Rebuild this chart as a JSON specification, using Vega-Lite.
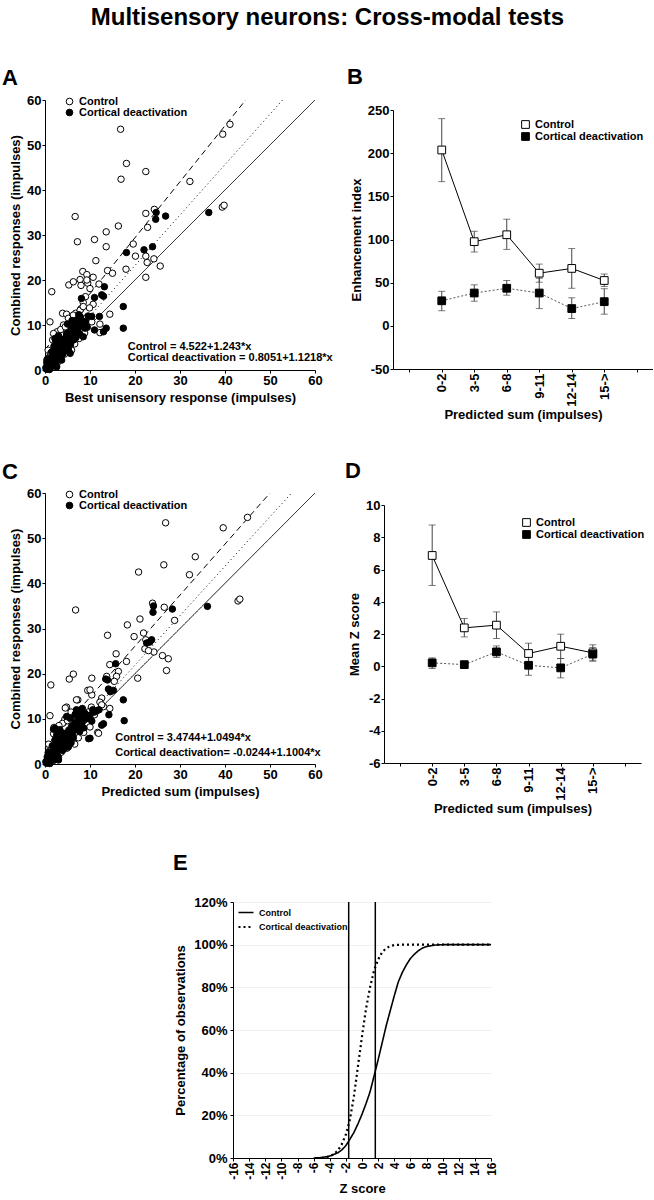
{
"$schema": "https://vega.github.io/schema/vega-lite/v6.json",
"background": "white",
"padding": {"left": 2, "top": 6, "right": 0, "bottom": 0},
"title": {"text": "Multisensory neurons: Cross-modal tests", "fontSize": 24, "anchor": "middle", "offset": 36},
"spacing": 36,
"resolve": {"scale": {"fill": "independent", "strokeDash": "independent", "color": "independent", "strokeWidth": "independent"}, "legend": {"fill": "independent", "strokeDash": "independent", "color": "independent"}},
"vconcat": [
{"spacing": 38,
 "resolve": {"scale": {"fill": "independent", "strokeDash": "independent", "color": "independent", "strokeWidth": "independent"}, "legend": {"fill": "independent", "strokeDash": "independent", "color": "independent"}},
 "vconcat": [
{"spacing": 14, "align": "none",
 "resolve": {"scale": {"fill": "independent", "strokeDash": "independent", "color": "independent", "strokeWidth": "independent"}, "legend": {"fill": "independent", "strokeDash": "independent", "color": "independent"}},
 "hconcat": [
{"width": 270, "height": 270,
 "title": {"text": "A", "anchor": "start", "frame": "group", "dx": -43, "offset": 4, "fontSize": 22},
 "layer": [
  {"data": {"values": [
    {"fit": "Control fit", "x": 0, "y": 4.522}, {"fit": "Control fit", "x": 44.6, "y": 60},
    {"fit": "Cortical fit", "x": 0, "y": 0.805}, {"fit": "Cortical fit", "x": 52.8, "y": 60},
    {"fit": "Unity", "x": 0, "y": 0}, {"fit": "Unity", "x": 60, "y": 60}]},
   "mark": {"type": "line", "color": "black", "strokeWidth": 1},
   "encoding": {
    "x": {"field": "x", "type": "quantitative", "scale": {"domain": [0, 60], "nice": false}, "axis": {"title": "Best unisensory response (impulses)", "values": [0, 10, 20, 30, 40, 50, 60], "tickCount": 20, "format": "d"}},
    "y": {"field": "y", "type": "quantitative", "scale": {"domain": [0, 60], "nice": false}, "axis": {"title": "Combined responses (impulses)", "values": [0, 10, 20, 30, 40, 50, 60], "tickCount": 20, "format": "d"}},
    "detail": {"field": "fit"},
    "strokeDash": {"field": "fit", "type": "nominal", "scale": {"domain": ["Control fit", "Cortical fit", "Unity"], "range": [[6, 4], [1, 3], [1, 0]]}, "legend": null}}},
  {"data": {"values": [
{"group":"Control","x":41.1,"y":54.6},{"group":"Control","x":39.5,"y":52.4},{"group":"Control","x":16.8,"y":53.5},{"group":"Control","x":18.1,"y":45.9},{"group":"Control","x":22.4,"y":44.1},{"group":"Control","x":16.9,"y":42.4},{"group":"Control","x":32.2,"y":41.9},{"group":"Control","x":39.4,"y":36.2},{"group":"Control","x":39.8,"y":36.6},{"group":"Control","x":6.7,"y":34.1},{"group":"Control","x":24.3,"y":35.7},{"group":"Control","x":22.4,"y":34.8},{"group":"Control","x":16.3,"y":32.0},{"group":"Control","x":13.6,"y":30.7},{"group":"Control","x":22.8,"y":31.7},{"group":"Control","x":7.2,"y":28.5},{"group":"Control","x":11.0,"y":29.0},{"group":"Control","x":13.6,"y":27.4},{"group":"Control","x":19.6,"y":28.0},{"group":"Control","x":20.1,"y":25.3},{"group":"Control","x":22.4,"y":25.3},{"group":"Control","x":24.2,"y":24.7},{"group":"Control","x":22.7,"y":23.9},{"group":"Control","x":25.6,"y":23.1},{"group":"Control","x":11.3,"y":24.3},{"group":"Control","x":13.9,"y":22.1},{"group":"Control","x":15.0,"y":21.5},{"group":"Control","x":8.4,"y":21.9},{"group":"Control","x":18.0,"y":22.4},{"group":"Control","x":22.4,"y":20.6},{"group":"Control","x":1.5,"y":17.4},{"group":"Control","x":5.3,"y":18.9},{"group":"Control","x":6.3,"y":19.6},{"group":"Control","x":7.8,"y":20.1},{"group":"Control","x":10.7,"y":20.6},{"group":"Control","x":9.5,"y":19.3},{"group":"Control","x":12.0,"y":19.1},{"group":"Control","x":10.0,"y":18.1},{"group":"Control","x":8.0,"y":18.8},{"group":"Control","x":9.0,"y":16.3},{"group":"Control","x":8.5,"y":15.0},{"group":"Control","x":10.7,"y":14.6},{"group":"Control","x":8.0,"y":13.6},{"group":"Control","x":6.8,"y":12.6},{"group":"Control","x":3.9,"y":12.6},{"group":"Control","x":4.8,"y":12.4},{"group":"Control","x":14.4,"y":12.4},{"group":"Control","x":1.1,"y":10.7},{"group":"Control","x":10.0,"y":10.9},{"group":"Control","x":5.2,"y":11.5},{"group":"Control","x":7.8,"y":10.0},{"group":"Control","x":4.1,"y":10.0},{"group":"Control","x":2.7,"y":8.5},{"group":"Control","x":1.7,"y":6.7},{"group":"Control","x":5.9,"y":8.1},{"group":"Control","x":5.6,"y":6.3},{"group":"Control","x":0.7,"y":4.4},{"group":"Control","x":2.4,"y":5.2},{"group":"Control","x":12.2,"y":10.2},{"group":"Control","x":7.0,"y":9.6},{"group":"Control","x":5.9,"y":4.4},{"group":"Control","x":0.4,"y":2.2},{"group":"Control","x":3.3,"y":6.7},{"group":"Control","x":9.3,"y":21.2},{"group":"Control","x":9.3,"y":20.0},{"group":"Control","x":6.3,"y":12.2},{"group":"Control","x":7.8,"y":13.3},{"group":"Control","x":8.5,"y":14.1},{"group":"Control","x":10.4,"y":10.7},{"group":"Control","x":1.9,"y":8.1},{"group":"Control","x":0.3,"y":0.6},{"group":"Control","x":0.6,"y":1.5},{"group":"Control","x":1.0,"y":2.9},{"group":"Control","x":1.3,"y":3.8},{"group":"Control","x":2.0,"y":4.6},{"group":"Control","x":2.9,"y":7.4},{"group":"Control","x":3.5,"y":9.0},{"group":"Control","x":4.5,"y":9.6},{"group":"Control","x":6.0,"y":10.6},{"group":"Control","x":9.2,"y":11.6},{"group":"Control","x":1.0,"y":0.9},{"group":"Control","x":2.0,"y":1.8},{"group":"Control","x":3.1,"y":2.6},{"group":"Control","x":4.3,"y":3.5},{"group":"Control","x":6.6,"y":5.8},{"group":"Control","x":7.6,"y":7.0},{"group":"Control","x":8.8,"y":8.2},{"group":"Control","x":0.5,"y":0.2},{"group":"Control","x":1.6,"y":0.8},{"group":"Control","x":2.7,"y":1.5},{"group":"Control","x":9.9,"y":13.8},{"group":"Control","x":12.2,"y":8.3},
{"group":"Cortical deactivation","x":36.4,"y":35.0},{"group":"Cortical deactivation","x":26.8,"y":34.2},{"group":"Cortical deactivation","x":24.6,"y":33.5},{"group":"Cortical deactivation","x":24.7,"y":35.0},{"group":"Cortical deactivation","x":23.9,"y":27.4},{"group":"Cortical deactivation","x":22.0,"y":26.7},{"group":"Cortical deactivation","x":18.1,"y":26.1},{"group":"Cortical deactivation","x":13.2,"y":18.5},{"group":"Cortical deactivation","x":13.0,"y":16.4},{"group":"Cortical deactivation","x":11.0,"y":16.1},{"group":"Cortical deactivation","x":8.1,"y":15.9},{"group":"Cortical deactivation","x":17.4,"y":14.1},{"group":"Cortical deactivation","x":12.1,"y":11.9},{"group":"Cortical deactivation","x":7.8,"y":11.9},{"group":"Cortical deactivation","x":7.2,"y":10.7},{"group":"Cortical deactivation","x":11.0,"y":8.9},{"group":"Cortical deactivation","x":13.6,"y":9.3},{"group":"Cortical deactivation","x":13.0,"y":8.5},{"group":"Cortical deactivation","x":17.4,"y":9.3},{"group":"Cortical deactivation","x":6.3,"y":9.3},{"group":"Cortical deactivation","x":4.8,"y":8.1},{"group":"Cortical deactivation","x":5.9,"y":7.0},{"group":"Cortical deactivation","x":8.5,"y":7.4},{"group":"Cortical deactivation","x":4.1,"y":5.9},{"group":"Cortical deactivation","x":3.0,"y":4.4},{"group":"Cortical deactivation","x":5.6,"y":3.7},{"group":"Cortical deactivation","x":1.9,"y":3.0},{"group":"Cortical deactivation","x":1.1,"y":1.5},{"group":"Cortical deactivation","x":3.7,"y":2.2},{"group":"Cortical deactivation","x":2.6,"y":0.7},{"group":"Cortical deactivation","x":4.8,"y":5.2},{"group":"Cortical deactivation","x":7.0,"y":11.1},{"group":"Cortical deactivation","x":6.4,"y":6.7},{"group":"Cortical deactivation","x":8.9,"y":9.3},{"group":"Cortical deactivation","x":0.3,"y":0.2},{"group":"Cortical deactivation","x":0.5,"y":0.8},{"group":"Cortical deactivation","x":0.7,"y":0.4},{"group":"Cortical deactivation","x":0.9,"y":1.2},{"group":"Cortical deactivation","x":1.2,"y":1.8},{"group":"Cortical deactivation","x":1.3,"y":0.9},{"group":"Cortical deactivation","x":1.5,"y":2.5},{"group":"Cortical deactivation","x":1.6,"y":1.4},{"group":"Cortical deactivation","x":1.8,"y":3.2},{"group":"Cortical deactivation","x":1.9,"y":2.1},{"group":"Cortical deactivation","x":2.0,"y":1.0},{"group":"Cortical deactivation","x":2.2,"y":3.8},{"group":"Cortical deactivation","x":2.3,"y":2.7},{"group":"Cortical deactivation","x":2.5,"y":1.8},{"group":"Cortical deactivation","x":2.6,"y":4.5},{"group":"Cortical deactivation","x":2.8,"y":3.3},{"group":"Cortical deactivation","x":3.1,"y":5.2},{"group":"Cortical deactivation","x":3.3,"y":4.0},{"group":"Cortical deactivation","x":3.5,"y":3.0},{"group":"Cortical deactivation","x":3.6,"y":6.0},{"group":"Cortical deactivation","x":3.8,"y":4.8},{"group":"Cortical deactivation","x":4.0,"y":3.6},{"group":"Cortical deactivation","x":4.1,"y":6.8},{"group":"Cortical deactivation","x":4.3,"y":5.5},{"group":"Cortical deactivation","x":4.5,"y":4.3},{"group":"Cortical deactivation","x":4.7,"y":7.5},{"group":"Cortical deactivation","x":4.9,"y":6.2},{"group":"Cortical deactivation","x":5.3,"y":8.3},{"group":"Cortical deactivation","x":5.5,"y":7.0},{"group":"Cortical deactivation","x":5.7,"y":5.8},{"group":"Cortical deactivation","x":5.9,"y":9.0},{"group":"Cortical deactivation","x":6.1,"y":7.7},{"group":"Cortical deactivation","x":6.5,"y":9.8},{"group":"Cortical deactivation","x":6.7,"y":8.5},{"group":"Cortical deactivation","x":7.1,"y":10.5},{"group":"Cortical deactivation","x":7.4,"y":9.2},{"group":"Cortical deactivation","x":8.0,"y":11.2},{"group":"Cortical deactivation","x":8.3,"y":10.0},{"group":"Cortical deactivation","x":9.0,"y":10.8},{"group":"Cortical deactivation","x":9.4,"y":9.5},{"group":"Cortical deactivation","x":3.0,"y":7.6},{"group":"Cortical deactivation","x":2.4,"y":6.4},{"group":"Cortical deactivation","x":1.5,"y":4.0},{"group":"Cortical deactivation","x":0.6,"y":2.5},{"group":"Cortical deactivation","x":2.0,"y":5.3},{"group":"Cortical deactivation","x":5.0,"y":10.2},{"group":"Cortical deactivation","x":6.0,"y":11.0},{"group":"Cortical deactivation","x":7.5,"y":12.3},{"group":"Cortical deactivation","x":2.2,"y":7.0},{"group":"Cortical deactivation","x":0.2,"y":0.5},{"group":"Cortical deactivation","x":1.0,"y":0.1},{"group":"Cortical deactivation","x":0.4,"y":1.6},{"group":"Cortical deactivation","x":5.2,"y":4.7},{"group":"Cortical deactivation","x":7.7,"y":8.0},{"group":"Cortical deactivation","x":6.9,"y":7.2},{"group":"Cortical deactivation","x":9.6,"y":12.0},{"group":"Cortical deactivation","x":10.4,"y":11.9},{"group":"Cortical deactivation","x":12.6,"y":16.7}
   ]},
   "mark": {"type": "circle", "size": 42, "stroke": "black", "strokeWidth": 1, "opacity": 1},
   "encoding": {
    "x": {"field": "x", "type": "quantitative"},
    "y": {"field": "y", "type": "quantitative"},
    "fill": {"field": "group", "type": "nominal", "scale": {"domain": ["Control", "Cortical deactivation"], "range": ["white", "black"]},
     "legend": {"title": null, "orient": "none", "legendX": 19, "legendY": -4, "symbolType": "circle", "symbolSize": 45, "symbolStrokeColor": "black", "symbolStrokeWidth": 1, "rowPadding": -3}}}},
  {"data": {"values": [{"label": "Control = 4.522+1.243*x", "x": 18.4, "y": 5.1}, {"label": "Cortical deactivation = 0.8051+1.1218*x", "x": 18.4, "y": 2.6}]},
   "mark": {"type": "text", "align": "left", "baseline": "middle", "fontSize": 11, "fontWeight": "bold", "color": "black"},
   "encoding": {"x": {"field": "x", "type": "quantitative"}, "y": {"field": "y", "type": "quantitative"}, "text": {"field": "label"}}}
 ]},
{"width": 260, "height": 269,
 "title": {"text": "B", "anchor": "start", "frame": "group", "dx": -46, "offset": 11, "fontSize": 22},
 "data": {"values": [
{"series":"Control","sum":"0-2","mean":203.7,"lo":167,"hi":240},
{"series":"Control","sum":"3-5","mean":97.5,"lo":85.5,"hi":109.5},
{"series":"Control","sum":"6-8","mean":105.5,"lo":88.5,"hi":123.5},
{"series":"Control","sum":"9-11","mean":61,"lo":50.5,"hi":71.5},
{"series":"Control","sum":"12-14","mean":66.5,"lo":43.5,"hi":89.5},
{"series":"Control","sum":"15->","mean":52.5,"lo":45.5,"hi":60},
{"series":"Cortical deactivation","sum":"0-2","mean":29,"lo":17.5,"hi":40},
{"series":"Cortical deactivation","sum":"3-5","mean":38,"lo":28.5,"hi":47.5},
{"series":"Cortical deactivation","sum":"6-8","mean":43.5,"lo":35.5,"hi":52.5},
{"series":"Cortical deactivation","sum":"9-11","mean":38,"lo":20,"hi":55},
{"series":"Cortical deactivation","sum":"12-14","mean":20,"lo":8.5,"hi":32.5},
{"series":"Cortical deactivation","sum":"15->","mean":28,"lo":13.5,"hi":43}]},
 "encoding": {"x": {"field": "sum", "type": "ordinal", "scale": {"type": "point", "domain": [" ", "0-2", "3-5", "6-8", "9-11", "12-14", "15->", "  "], "padding": 0.5}, "axis": {"title": "Predicted sum (impulses)", "labelAngle": -90, "titlePadding": 2}}},
 "layer": [
  {"transform": [{"filter": "datum.series === 'Control'"}],
   "mark": {"type": "line", "strokeWidth": 1, "color": "black"},
   "encoding": {
    "y": {"field": "mean", "type": "quantitative", "scale": {"domain": [-50, 250], "nice": false, "zero": false, "range": [269, 10]}, "axis": {"title": "Enhancement index", "values": [-50, 0, 50, 100, 150, 200, 250], "tickCount": 20, "labelExpr": "datum.value < 0 ? '-' + (-datum.value) : '' + datum.value"}},
    "order": {"value": null}}},
  {"transform": [{"filter": "datum.series === 'Cortical deactivation'"}],
   "mark": {"type": "line", "strokeWidth": 1, "color": "#555555", "strokeDash": [2, 2]},
   "encoding": {"y": {"field": "mean", "type": "quantitative"}, "order": {"value": null}}},
  {"mark": {"type": "rule", "color": "#444444"}, "encoding": {"y": {"field": "lo", "type": "quantitative"}, "y2": {"field": "hi"}}},
  {"mark": {"type": "tick", "color": "#444444", "size": 7, "thickness": 1}, "encoding": {"y": {"field": "lo", "type": "quantitative"}}},
  {"mark": {"type": "tick", "color": "#444444", "size": 7, "thickness": 1}, "encoding": {"y": {"field": "hi", "type": "quantitative"}}},
  {"mark": {"type": "square", "size": 60, "stroke": "black", "strokeWidth": 1, "opacity": 1},
   "encoding": {"y": {"field": "mean", "type": "quantitative"},
    "fill": {"field": "series", "type": "nominal", "scale": {"domain": ["Control", "Cortical deactivation"], "range": ["white", "black"]},
     "legend": {"title": null, "orient": "none", "legendX": 127, "legendY": 19, "symbolType": "square", "symbolSize": 60, "symbolStrokeColor": "black", "symbolStrokeWidth": 1, "rowPadding": -2}}}}
 ]}
]},
{"spacing": 22, "align": "none",
 "resolve": {"scale": {"fill": "independent", "strokeDash": "independent", "color": "independent", "strokeWidth": "independent"}, "legend": {"fill": "independent", "strokeDash": "independent", "color": "independent"}},
 "hconcat": [
{"width": 270, "height": 271,
 "title": {"text": "C", "anchor": "start", "frame": "group", "dx": -43, "offset": 3, "fontSize": 22},
 "layer": [
  {"data": {"values": [
    {"fit": "Control fit", "x": 0, "y": 3.47}, {"fit": "Control fit", "x": 50, "y": 60},
    {"fit": "Cortical fit", "x": 0, "y": 0}, {"fit": "Cortical fit", "x": 54.8, "y": 60},
    {"fit": "Unity", "x": 0, "y": 0}, {"fit": "Unity", "x": 60, "y": 60}]},
   "mark": {"type": "line", "color": "black", "strokeWidth": 1},
   "encoding": {
    "x": {"field": "x", "type": "quantitative", "scale": {"domain": [0, 60], "nice": false}, "axis": {"title": "Predicted sum (impulses)", "values": [0, 10, 20, 30, 40, 50, 60], "tickCount": 20, "format": "d"}},
    "y": {"field": "y", "type": "quantitative", "scale": {"domain": [0, 60], "nice": false}, "axis": {"title": "Combined responses (impulses)", "values": [0, 10, 20, 30, 40, 50, 60], "tickCount": 20, "format": "d"}},
    "detail": {"field": "fit"},
    "strokeDash": {"field": "fit", "type": "nominal", "scale": {"domain": ["Control fit", "Cortical fit", "Unity"], "range": [[6, 4], [1, 3], [1, 0]]}, "legend": null}}},
  {"data": {"values": [
{"group":"Control","x":45.0,"y":54.6},{"group":"Control","x":39.6,"y":52.3},{"group":"Control","x":26.8,"y":53.4},{"group":"Control","x":33.4,"y":45.9},{"group":"Control","x":26.4,"y":44.1},{"group":"Control","x":20.8,"y":42.5},{"group":"Control","x":32.1,"y":41.9},{"group":"Control","x":42.9,"y":36.1},{"group":"Control","x":43.3,"y":36.5},{"group":"Control","x":6.8,"y":34.1},{"group":"Control","x":23.9,"y":35.6},{"group":"Control","x":26.5,"y":34.7},{"group":"Control","x":21.1,"y":32.1},{"group":"Control","x":28.8,"y":31.8},{"group":"Control","x":18.3,"y":30.8},{"group":"Control","x":13.9,"y":28.5},{"group":"Control","x":19.8,"y":28.2},{"group":"Control","x":21.9,"y":29.0},{"group":"Control","x":22.4,"y":27.5},{"group":"Control","x":24.2,"y":24.8},{"group":"Control","x":26.1,"y":24.0},{"group":"Control","x":27.4,"y":23.3},{"group":"Control","x":27.0,"y":20.7},{"group":"Control","x":20.6,"y":19.0},{"group":"Control","x":22.2,"y":25.5},{"group":"Control","x":23.0,"y":25.1},{"group":"Control","x":15.8,"y":24.4},{"group":"Control","x":14.4,"y":22.0},{"group":"Control","x":18.1,"y":22.7},{"group":"Control","x":16.3,"y":20.5},{"group":"Control","x":15.9,"y":19.4},{"group":"Control","x":15.4,"y":18.3},{"group":"Control","x":1.3,"y":17.5},{"group":"Control","x":5.4,"y":18.8},{"group":"Control","x":6.3,"y":19.9},{"group":"Control","x":10.4,"y":19.0},{"group":"Control","x":13.7,"y":19.4},{"group":"Control","x":9.5,"y":16.3},{"group":"Control","x":10.4,"y":15.3},{"group":"Control","x":12.6,"y":14.6},{"group":"Control","x":7.3,"y":14.2},{"group":"Control","x":12.2,"y":13.7},{"group":"Control","x":4.8,"y":12.6},{"group":"Control","x":14.4,"y":12.3},{"group":"Control","x":1.1,"y":10.7},{"group":"Control","x":11.7,"y":7.0},{"group":"Control","x":13.0,"y":12.7},{"group":"Control","x":8.1,"y":11.8},{"group":"Control","x":10.0,"y":16.4},{"group":"Control","x":12.6,"y":13.1},{"group":"Control","x":4.4,"y":9.9},{"group":"Control","x":7.0,"y":14.2},{"group":"Control","x":11.9,"y":6.8},{"group":"Control","x":0.3,"y":0.6},{"group":"Control","x":0.6,"y":1.5},{"group":"Control","x":1.0,"y":2.9},{"group":"Control","x":1.4,"y":3.8},{"group":"Control","x":2.2,"y":4.6},{"group":"Control","x":3.2,"y":7.4},{"group":"Control","x":3.9,"y":9.0},{"group":"Control","x":5.0,"y":9.6},{"group":"Control","x":6.5,"y":10.6},{"group":"Control","x":9.8,"y":11.6},{"group":"Control","x":1.2,"y":0.9},{"group":"Control","x":2.4,"y":1.8},{"group":"Control","x":3.6,"y":2.6},{"group":"Control","x":4.9,"y":3.5},{"group":"Control","x":7.4,"y":5.8},{"group":"Control","x":8.6,"y":7.0},{"group":"Control","x":10.0,"y":8.2},{"group":"Control","x":0.6,"y":0.2},{"group":"Control","x":1.9,"y":0.8},{"group":"Control","x":3.0,"y":1.5},{"group":"Control","x":2.0,"y":8.1},{"group":"Control","x":3.6,"y":6.7},{"group":"Control","x":0.8,"y":4.4},{"group":"Control","x":2.7,"y":5.2},{"group":"Control","x":6.4,"y":8.1},{"group":"Control","x":6.2,"y":6.3},{"group":"Control","x":6.6,"y":4.4},{"group":"Control","x":4.5,"y":12.4},{"group":"Control","x":5.8,"y":11.5},{"group":"Control","x":8.8,"y":10.0},{"group":"Control","x":3.1,"y":8.5},{"group":"Control","x":1.9,"y":6.7},{"group":"Control","x":7.8,"y":9.6},{"group":"Control","x":11.0,"y":10.9},{"group":"Control","x":9.2,"y":10.6},{"group":"Control","x":5.7,"y":10.0},{"group":"Control","x":10.3,"y":12.6},
{"group":"Cortical deactivation","x":36.1,"y":34.9},{"group":"Cortical deactivation","x":28.3,"y":34.3},{"group":"Cortical deactivation","x":24.1,"y":35.0},{"group":"Cortical deactivation","x":24.0,"y":33.6},{"group":"Cortical deactivation","x":23.7,"y":27.5},{"group":"Cortical deactivation","x":23.3,"y":27.0},{"group":"Cortical deactivation","x":22.6,"y":26.8},{"group":"Cortical deactivation","x":15.7,"y":22.2},{"group":"Cortical deactivation","x":13.9,"y":18.6},{"group":"Cortical deactivation","x":14.1,"y":16.6},{"group":"Cortical deactivation","x":15.2,"y":16.3},{"group":"Cortical deactivation","x":17.4,"y":14.2},{"group":"Cortical deactivation","x":17.6,"y":9.6},{"group":"Cortical deactivation","x":14.2,"y":10.9},{"group":"Cortical deactivation","x":13.0,"y":8.9},{"group":"Cortical deactivation","x":11.5,"y":11.8},{"group":"Cortical deactivation","x":9.7,"y":5.6},{"group":"Cortical deactivation","x":1.9,"y":7.7},{"group":"Cortical deactivation","x":7.0,"y":12.0},{"group":"Cortical deactivation","x":7.8,"y":11.2},{"group":"Cortical deactivation","x":4.8,"y":10.5},{"group":"Cortical deactivation","x":8.5,"y":9.8},{"group":"Cortical deactivation","x":6.3,"y":8.3},{"group":"Cortical deactivation","x":4.1,"y":6.8},{"group":"Cortical deactivation","x":3.3,"y":4.6},{"group":"Cortical deactivation","x":2.2,"y":3.1},{"group":"Cortical deactivation","x":1.1,"y":1.6},{"group":"Cortical deactivation","x":5.2,"y":3.8},{"group":"Cortical deactivation","x":3.0,"y":0.9},{"group":"Cortical deactivation","x":12.6,"y":8.6},{"group":"Cortical deactivation","x":2.2,"y":7.9},{"group":"Cortical deactivation","x":10.0,"y":5.7},{"group":"Cortical deactivation","x":0.3,"y":0.2},{"group":"Cortical deactivation","x":0.6,"y":0.8},{"group":"Cortical deactivation","x":0.8,"y":0.4},{"group":"Cortical deactivation","x":1.0,"y":1.2},{"group":"Cortical deactivation","x":1.4,"y":1.8},{"group":"Cortical deactivation","x":1.5,"y":0.9},{"group":"Cortical deactivation","x":1.7,"y":2.5},{"group":"Cortical deactivation","x":1.8,"y":1.4},{"group":"Cortical deactivation","x":2.0,"y":3.2},{"group":"Cortical deactivation","x":2.1,"y":2.1},{"group":"Cortical deactivation","x":2.3,"y":1.0},{"group":"Cortical deactivation","x":2.5,"y":3.8},{"group":"Cortical deactivation","x":2.6,"y":2.7},{"group":"Cortical deactivation","x":2.8,"y":1.8},{"group":"Cortical deactivation","x":2.9,"y":4.5},{"group":"Cortical deactivation","x":3.1,"y":3.3},{"group":"Cortical deactivation","x":3.5,"y":5.2},{"group":"Cortical deactivation","x":3.7,"y":4.0},{"group":"Cortical deactivation","x":3.9,"y":3.0},{"group":"Cortical deactivation","x":4.0,"y":6.0},{"group":"Cortical deactivation","x":4.2,"y":4.8},{"group":"Cortical deactivation","x":4.5,"y":3.6},{"group":"Cortical deactivation","x":4.6,"y":6.8},{"group":"Cortical deactivation","x":4.8,"y":5.5},{"group":"Cortical deactivation","x":5.0,"y":4.3},{"group":"Cortical deactivation","x":5.3,"y":7.5},{"group":"Cortical deactivation","x":5.5,"y":6.2},{"group":"Cortical deactivation","x":5.9,"y":8.3},{"group":"Cortical deactivation","x":6.1,"y":7.0},{"group":"Cortical deactivation","x":6.3,"y":5.8},{"group":"Cortical deactivation","x":6.6,"y":9.0},{"group":"Cortical deactivation","x":6.8,"y":7.7},{"group":"Cortical deactivation","x":7.3,"y":9.8},{"group":"Cortical deactivation","x":7.5,"y":8.5},{"group":"Cortical deactivation","x":7.9,"y":10.5},{"group":"Cortical deactivation","x":8.2,"y":9.2},{"group":"Cortical deactivation","x":8.9,"y":11.2},{"group":"Cortical deactivation","x":9.2,"y":10.0},{"group":"Cortical deactivation","x":10.0,"y":10.8},{"group":"Cortical deactivation","x":10.4,"y":9.5},{"group":"Cortical deactivation","x":3.3,"y":7.6},{"group":"Cortical deactivation","x":2.6,"y":6.4},{"group":"Cortical deactivation","x":1.6,"y":4.0},{"group":"Cortical deactivation","x":0.7,"y":2.5},{"group":"Cortical deactivation","x":2.2,"y":5.3},{"group":"Cortical deactivation","x":5.6,"y":10.2},{"group":"Cortical deactivation","x":6.7,"y":11.0},{"group":"Cortical deactivation","x":8.3,"y":12.3},{"group":"Cortical deactivation","x":11.0,"y":11.5},{"group":"Cortical deactivation","x":12.0,"y":12.0},{"group":"Cortical deactivation","x":0.2,"y":0.5},{"group":"Cortical deactivation","x":1.1,"y":0.1},{"group":"Cortical deactivation","x":0.5,"y":1.6},{"group":"Cortical deactivation","x":5.8,"y":4.7},{"group":"Cortical deactivation","x":8.6,"y":8.0},{"group":"Cortical deactivation","x":7.7,"y":7.2},{"group":"Cortical deactivation","x":10.6,"y":12.0},{"group":"Cortical deactivation","x":13.5,"y":18.8},{"group":"Cortical deactivation","x":14.5,"y":16.0}
   ]},
   "mark": {"type": "circle", "size": 42, "stroke": "black", "strokeWidth": 1, "opacity": 1},
   "encoding": {
    "x": {"field": "x", "type": "quantitative"},
    "y": {"field": "y", "type": "quantitative"},
    "fill": {"field": "group", "type": "nominal", "scale": {"domain": ["Control", "Cortical deactivation"], "range": ["white", "black"]},
     "legend": {"title": null, "orient": "none", "legendX": 19, "legendY": -4, "symbolType": "circle", "symbolSize": 45, "symbolStrokeColor": "black", "symbolStrokeWidth": 1, "rowPadding": -3}}}},
  {"data": {"values": [{"label": "Control  = 3.4744+1.0494*x", "x": 15.6, "y": 5.8}, {"label": "Cortical deactivation= -0.0244+1.1004*x", "x": 15.6, "y": 2.4}]},
   "mark": {"type": "text", "align": "left", "baseline": "middle", "fontSize": 11, "fontWeight": "bold", "color": "black"},
   "encoding": {"x": {"field": "x", "type": "quantitative"}, "y": {"field": "y", "type": "quantitative"}, "text": {"field": "label"}}}
 ]},
{"width": 257, "height": 270,
 "title": {"text": "D", "anchor": "start", "frame": "group", "dx": -39, "offset": 10, "fontSize": 22},
 "data": {"values": [
{"series":"Control","sum":"0-2","mean":6.87,"lo":5.01,"hi":8.76},
{"series":"Control","sum":"3-5","mean":2.38,"lo":1.82,"hi":2.96},
{"series":"Control","sum":"6-8","mean":2.55,"lo":1.72,"hi":3.37},
{"series":"Control","sum":"9-11","mean":0.79,"lo":0.17,"hi":1.43},
{"series":"Control","sum":"12-14","mean":1.24,"lo":0.48,"hi":1.99},
{"series":"Control","sum":"15->","mean":0.83,"lo":0.37,"hi":1.33},
{"series":"Cortical deactivation","sum":"0-2","mean":0.21,"lo":-0.14,"hi":0.52},
{"series":"Cortical deactivation","sum":"3-5","mean":0.1,"lo":-0.1,"hi":0.27},
{"series":"Cortical deactivation","sum":"6-8","mean":0.89,"lo":0.54,"hi":1.26},
{"series":"Cortical deactivation","sum":"9-11","mean":0.06,"lo":-0.56,"hi":0.68},
{"series":"Cortical deactivation","sum":"12-14","mean":-0.1,"lo":-0.72,"hi":0.48},
{"series":"Cortical deactivation","sum":"15->","mean":0.75,"lo":0.31,"hi":1.16}]},
 "encoding": {"x": {"field": "sum", "type": "ordinal", "scale": {"type": "point", "domain": [" ", "0-2", "3-5", "6-8", "9-11", "12-14", "15->", "  "], "padding": 0.5}, "axis": {"title": "Predicted sum (impulses)", "labelAngle": -90, "titlePadding": 2}}},
 "layer": [
  {"transform": [{"filter": "datum.series === 'Control'"}],
   "mark": {"type": "line", "strokeWidth": 1, "color": "black"},
   "encoding": {
    "y": {"field": "mean", "type": "quantitative", "scale": {"domain": [-6, 10], "nice": false, "zero": false, "range": [270, 12]}, "axis": {"title": "Mean Z score", "values": [-6, -4, -2, 0, 2, 4, 6, 8, 10], "tickCount": 30, "labelExpr": "datum.value < 0 ? '-' + (-datum.value) : '' + datum.value"}},
    "order": {"value": null}}},
  {"transform": [{"filter": "datum.series === 'Cortical deactivation'"}],
   "mark": {"type": "line", "strokeWidth": 1, "color": "#555555", "strokeDash": [2, 2]},
   "encoding": {"y": {"field": "mean", "type": "quantitative"}, "order": {"value": null}}},
  {"mark": {"type": "rule", "color": "#444444"}, "encoding": {"y": {"field": "lo", "type": "quantitative"}, "y2": {"field": "hi"}}},
  {"mark": {"type": "tick", "color": "#444444", "size": 7, "thickness": 1}, "encoding": {"y": {"field": "lo", "type": "quantitative"}}},
  {"mark": {"type": "tick", "color": "#444444", "size": 7, "thickness": 1}, "encoding": {"y": {"field": "hi", "type": "quantitative"}}},
  {"mark": {"type": "square", "size": 60, "stroke": "black", "strokeWidth": 1, "opacity": 1},
   "encoding": {"y": {"field": "mean", "type": "quantitative"},
    "fill": {"field": "series", "type": "nominal", "scale": {"domain": ["Control", "Cortical deactivation"], "range": ["white", "black"]},
     "legend": {"title": null, "orient": "none", "legendX": 137, "legendY": 24, "symbolType": "square", "symbolSize": 60, "symbolStrokeColor": "black", "symbolStrokeWidth": 1, "rowPadding": -3}}}}
 ]}
]}
]},
{"spacing": 10, "align": "none",
 "resolve": {"scale": {"fill": "independent", "strokeDash": "independent", "color": "independent", "strokeWidth": "independent"}, "legend": {"fill": "independent", "strokeDash": "independent", "color": "independent"}},
 "hconcat": [
{"width": 118, "height": 10, "data": {"values": []}, "mark": {"type": "point"}, "encoding": {}},
{"width": 258, "height": 256,
 "title": {"text": "E", "anchor": "start", "frame": "group", "dx": -60, "offset": 21, "fontSize": 22},
 "layer": [
  {"data": {"values": [
{"series":"Control","z":-6,"p":0.0},{"series":"Control","z":-5,"p":0.002},{"series":"Control","z":-4,"p":0.009},{"series":"Control","z":-3,"p":0.024},{"series":"Control","z":-2.5,"p":0.038},{"series":"Control","z":-2,"p":0.058},{"series":"Control","z":-1.5,"p":0.088},{"series":"Control","z":-1,"p":0.12},{"series":"Control","z":-0.5,"p":0.16},{"series":"Control","z":0,"p":0.205},{"series":"Control","z":0.5,"p":0.255},{"series":"Control","z":1,"p":0.31},{"series":"Control","z":1.5,"p":0.385},{"series":"Control","z":2,"p":0.46},{"series":"Control","z":2.5,"p":0.54},{"series":"Control","z":3,"p":0.62},{"series":"Control","z":3.5,"p":0.69},{"series":"Control","z":4,"p":0.76},{"series":"Control","z":4.5,"p":0.825},{"series":"Control","z":5,"p":0.87},{"series":"Control","z":5.5,"p":0.905},{"series":"Control","z":6,"p":0.935},{"series":"Control","z":6.5,"p":0.955},{"series":"Control","z":7,"p":0.972},{"series":"Control","z":7.5,"p":0.984},{"series":"Control","z":8,"p":0.991},{"series":"Control","z":9,"p":0.998},{"series":"Control","z":10,"p":1.0},{"series":"Control","z":12,"p":1.0},{"series":"Control","z":16,"p":1.0},
{"series":"Cortical deactivation","z":-5,"p":0.0},{"series":"Cortical deactivation","z":-4.5,"p":0.003},{"series":"Cortical deactivation","z":-4,"p":0.008},{"series":"Cortical deactivation","z":-3.5,"p":0.018},{"series":"Cortical deactivation","z":-3,"p":0.035},{"series":"Cortical deactivation","z":-2.5,"p":0.065},{"series":"Cortical deactivation","z":-2,"p":0.11},{"series":"Cortical deactivation","z":-1.5,"p":0.18},{"series":"Cortical deactivation","z":-1,"p":0.29},{"series":"Cortical deactivation","z":-0.5,"p":0.43},{"series":"Cortical deactivation","z":0,"p":0.57},{"series":"Cortical deactivation","z":0.5,"p":0.70},{"series":"Cortical deactivation","z":1,"p":0.80},{"series":"Cortical deactivation","z":1.5,"p":0.88},{"series":"Cortical deactivation","z":2,"p":0.93},{"series":"Cortical deactivation","z":2.5,"p":0.965},{"series":"Cortical deactivation","z":3,"p":0.983},{"series":"Cortical deactivation","z":3.5,"p":0.993},{"series":"Cortical deactivation","z":4,"p":0.998},{"series":"Cortical deactivation","z":5,"p":1.0},{"series":"Cortical deactivation","z":16,"p":1.0}
   ]},
   "mark": {"type": "line", "color": "black"},
   "encoding": {
    "x": {"field": "z", "type": "quantitative", "scale": {"domain": [-16, 16], "nice": false},
     "axis": {"title": "Z score", "values": [-16, -14, -12, -10, -8, -6, -4, -2, 0, 2, 4, 6, 8, 10, 12, 14, 16], "tickCount": 40, "labelExpr": "datum.value < 0 ? '-' + (-datum.value) : '' + datum.value", "labelAngle": -90, "labelFontSize": 12, "titlePadding": 3}},
    "y": {"field": "p", "type": "quantitative", "scale": {"domain": [0, 1.2], "nice": false},
     "axis": {"title": "Percentage of observations", "values": [0, 0.2, 0.4, 0.6, 0.8, 1.0, 1.2], "tickCount": 20, "format": ".0%", "grid": true, "gridColor": "#f0f0f0", "labelPadding": 3, "titlePadding": 6}},
    "strokeDash": {"field": "series", "type": "nominal", "scale": {"domain": ["Control", "Cortical deactivation"], "range": [[1, 0], [2, 3]]},
     "legend": {"title": null, "orient": "none", "legendX": 4, "legendY": 2, "symbolType": "stroke", "symbolSize": 225, "symbolStrokeColor": "black", "symbolStrokeWidth": 1.2, "labelFontSize": 9, "rowPadding": 0}},
    "strokeWidth": {"field": "series", "type": "nominal", "scale": {"domain": ["Control", "Cortical deactivation"], "range": [1.6, 2.2]}, "legend": null}}},
  {"data": {"values": [{"z": -1.65}, {"z": 1.65}]},
   "mark": {"type": "rule", "color": "black", "strokeWidth": 1.5},
   "encoding": {"x": {"field": "z", "type": "quantitative"}}}
 ]}
]}
],
"config": {
 "font": "Liberation Sans",
 "view": {"stroke": null},
 "axis": {"labelFontSize": 13, "labelFontWeight": "bold", "labelColor": "black", "titleFontSize": 13, "titleFontWeight": "bold", "titleColor": "black", "domainColor": "black", "tickColor": "black", "grid": false, "tickSize": 3, "labelPadding": 1, "titlePadding": 4, "labelFlush": false, "labelOverlap": false},
 "legend": {"labelFontWeight": "bold", "labelColor": "black", "labelFontSize": 11, "padding": 0, "labelOffset": 4},
 "title": {"color": "black", "fontWeight": "bold", "font": "Liberation Sans"}
}
}
